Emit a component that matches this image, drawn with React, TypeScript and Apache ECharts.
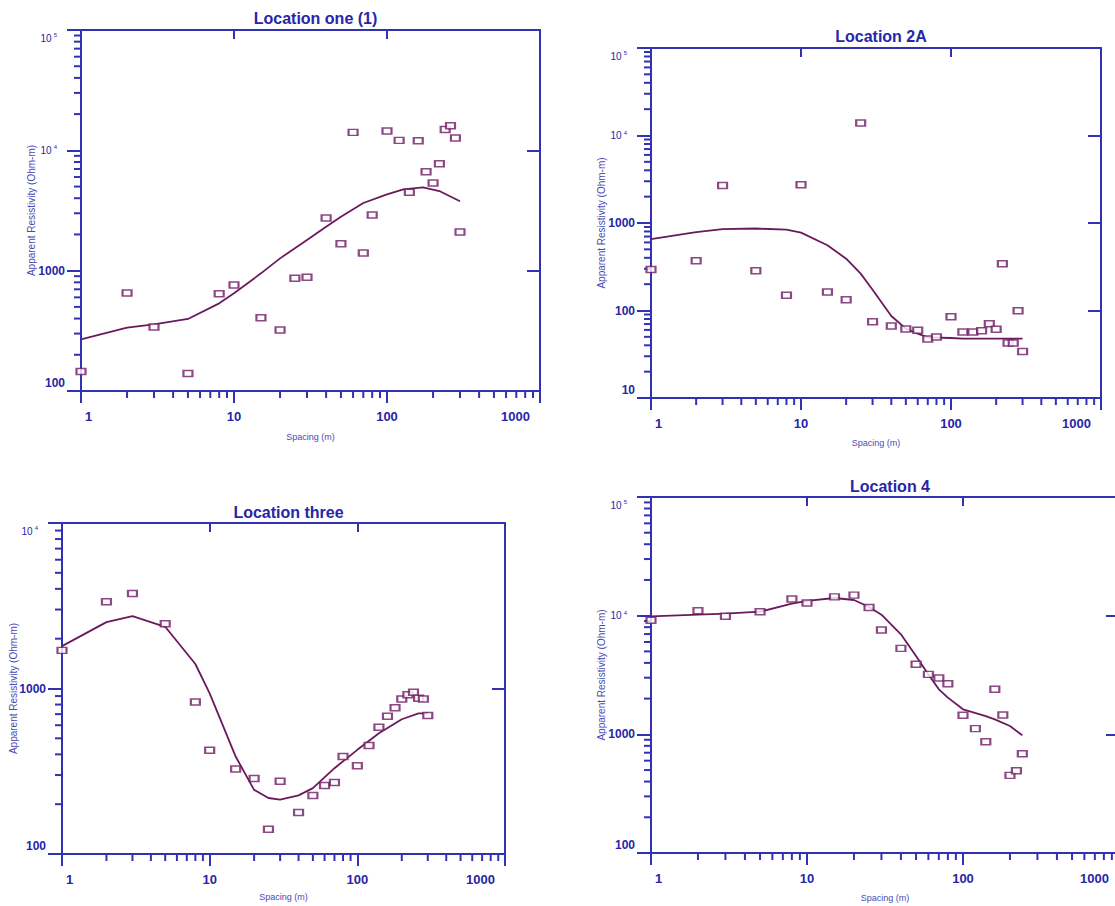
import React, { useEffect, useRef } from "react";
import * as echarts from "echarts";

// ---------- data ----------
const titles = ["Location one (1)", "Location 2A", "Location three", "Location 4"];
const xAxisName = "Spacing (m)";
const yAxisName = "Apparent Resistivity (Ohm-m)";

const spacing1 = [1, 2, 3, 5, 8, 10, 15, 20, 25, 30, 40, 50, 60, 70, 80, 100, 120, 140, 160, 180, 200, 220, 240, 260, 280, 300];
const rho1 = [145, 652, 340, 140, 644, 760, 407, 321, 864, 880, 2740, 1676, 14100, 1402, 2900, 14500, 12100, 4480, 12000, 6650, 5350, 7750, 14900, 16000, 12650, 2100];
const fitX1 = [1, 2, 3, 5, 8, 10, 15, 20, 30, 40, 50, 70, 100, 128, 172, 220, 300];
const fitY1 = [269, 336, 358, 397, 535, 648, 950, 1265, 1800, 2320, 2810, 3650, 4310, 4740, 4930, 4590, 3770];

const spacing2 = [1, 2, 3, 5, 8, 10, 15, 20, 25, 30, 40, 50, 60, 70, 80, 100, 120, 140, 160, 180, 200, 220, 240, 260, 280, 300];
const rho2 = [295, 371, 2690, 285, 149, 2740, 163, 133, 13900, 74.5, 66.5, 61.5, 59.3, 47.2, 49.8, 85, 56.8, 56.8, 58.8, 70.7, 61, 343, 42.5, 42.5, 99.6, 33.9];
const fitX2 = [1, 2, 3, 5, 8, 10, 15, 20, 25, 30, 40, 50, 60, 70, 100, 120, 300];
const fitY2 = [656, 788, 853, 865, 840, 776, 556, 391, 264, 173, 86.5, 62, 54.3, 49.4, 48.5, 47.7, 47.7];

const spacing3 = [1, 2, 3, 5, 8, 10, 15, 20, 25, 30, 40, 50, 60, 70, 80, 100, 120, 140, 160, 180, 200, 220, 240, 260, 280, 300];
const rho3 = [1700, 3340, 3750, 2460, 829, 424, 326, 286, 141, 275, 178, 226, 259, 270, 388, 341, 452, 583, 679, 766, 864, 918, 948, 873, 864, 686];
const fitX3 = [1, 2, 3, 5, 8, 10, 15, 20, 25, 30, 40, 50, 70, 100, 140, 200, 260, 300];
const fitY3 = [1804, 2518, 2737, 2360, 1406, 935, 388, 244, 218, 213, 226, 250, 330, 426, 537, 652, 708, 708];

const spacing4 = [1, 2, 3, 5, 8, 10, 15, 20, 25, 30, 40, 50, 60, 70, 80, 100, 120, 140, 160, 180, 200, 220, 240];
const rho4 = [9140, 11020, 9870, 10800, 13800, 12800, 14400, 14900, 11700, 7570, 5300, 3890, 3200, 2985, 2670, 1446, 1117, 867, 2395, 1455, 451, 494, 687];
const fitX4 = [1, 2, 3, 5, 8, 10, 15, 20, 25, 30, 40, 50, 60, 70, 80, 100, 140, 160, 200, 240];
const fitY4 = [9870, 10200, 10400, 10800, 12620, 13300, 14090, 13550, 11830, 10200, 6960, 4570, 3200, 2395, 2040, 1625, 1426, 1337, 1175, 981];

const xRange = [1, 1000];
const yRanges = [
  [100, 100000],
  [10, 100000],
  [100, 10000],
  [100, 100000],
];
const minorMultiples = [2, 3, 4, 5, 6, 7, 8, 9];
const decades = [1, 10, 100, 1000, 10000];

// ---------- styling / layout ----------
const BLUE = "#3131b6";
const TXT = "#2626a8";
const NAME = "#4a4ab4";
const PURPLE = "#6e1a63";
const LINE = "#6a1a5c";
const FONT = "Liberation Sans, Arial, sans-serif";

const layout = [
  { left: 81, top: 30, width: 459, height: 361, titleTop: 5, xGap: 41, yGap: 45 },
  { left: 651, top: 48, width: 450, height: 350, titleTop: 23, xGap: 40, yGap: 45 },
  { left: 62, top: 523, width: 443, height: 331, titleTop: 499, xGap: 38, yGap: 44 },
  { left: 651, top: 497, width: 468, height: 356, titleTop: 473, xGap: 40, yGap: 45 },
];

const spacings = [spacing1, spacing2, spacing3, spacing4];
const rhos = [rho1, rho2, rho3, rho4];
const fitXs = [fitX1, fitX2, fitX3, fitX4];
const fitYs = [fitY1, fitY2, fitY3, fitY4];

function minorTicks(lo: number, hi: number): number[] {
  const out: number[] = [];
  decades.forEach((d) => {
    minorMultiples.forEach((m) => {
      const v = d * m;
      if (v > lo && v < hi) out.push(v);
    });
  });
  return out;
}

function makeYLabel(yMin: number, yMax: number) {
  const eMin = Math.round(Math.log10(yMin));
  const eMax = Math.round(Math.log10(yMax));
  return (v: number): string => {
    const e = Math.round(Math.log10(v));
    const body = e >= 4 ? `{t|10}{s|${e}}` : `{b|${Math.round(Math.pow(10, e))}}`;
    if (e === eMin) return `${body}\n{gap| }`;
    if (e === eMax) return `{gap| }\n${body}`;
    return body;
  };
}

function xLabel(v: number): string {
  const e = Math.round(Math.log10(v));
  const s = String(Math.round(Math.pow(10, e)));
  if (e === 0) return `{mn|${s}}`;
  if (e === 3) return `{mx|${s}}`;
  return s;
}

function buildOption() {
  const grid: any[] = [];
  const xAxis: any[] = [];
  const yAxis: any[] = [];
  const series: any[] = [];
  const title: any[] = [];

  layout.forEach((L, i) => {
    const [yMin, yMax] = yRanges[i];
    grid.push({ left: L.left, top: L.top, width: L.width, height: L.height, containLabel: false, outerBoundsMode: "none", show: false });
    title.push({
      text: titles[i],
      left: L.left + L.width / 2,
      top: L.titleTop,
      textAlign: "center",
      textStyle: { color: TXT, fontSize: 16, fontWeight: "bold", fontFamily: FONT },
    });
    const lineStyle = { color: BLUE, width: 2 };
    const xl = { color: TXT, fontSize: 13, fontWeight: "bold", fontFamily: FONT };
    // bottom x axis
    xAxis.push({
      type: "log", logBase: 10, gridIndex: i, min: xRange[0], max: xRange[1], position: "bottom",
      axisLine: { show: true, lineStyle },
      axisTick: { show: true, inside: false, length: 12, lineStyle },
      splitLine: { show: false },
      minorTick: { show: false },
      axisLabel: {
        ...xl, margin: 19,
        alignMinLabel: "left", alignMaxLabel: "right",
        formatter: xLabel,
        rich: {
          mn: { ...xl, padding: [0, 0, 0, 4] },
          mx: { ...xl, padding: [0, 10, 0, 0] },
        },
      },
      name: xAxisName, nameLocation: "middle", nameGap: L.xGap, nameMoveOverlap: false,
      nameTextStyle: { color: NAME, fontSize: 9, fontFamily: FONT },
    });
    // top x axis (frame with inward ticks)
    xAxis.push({
      type: "log", logBase: 10, gridIndex: i, min: xRange[0], max: xRange[1], position: "top",
      axisLine: { show: true, lineStyle },
      axisTick: { show: true, inside: true, length: 9, lineStyle },
      axisLabel: { show: false },
      splitLine: { show: false },
    });
    // left y axis
    yAxis.push({
      type: "log", logBase: 10, gridIndex: i, min: yMin, max: yMax, position: "left",
      axisLine: { show: true, lineStyle },
      axisTick: { show: true, inside: false, length: 14, lineStyle },
      splitLine: { show: false },
      axisLabel: {
        margin: 16,
        formatter: makeYLabel(yMin, yMax),
        rich: {
          b: { color: TXT, fontSize: 12, fontWeight: "bold", fontFamily: FONT },
          t: { color: TXT, fontSize: 10, fontFamily: FONT },
          s: { color: TXT, fontSize: 6, fontFamily: FONT, verticalAlign: "top", padding: [0, 8, 6, 2] },
          gap: { fontSize: 6, lineHeight: 16 },
        },
      },
      name: yAxisName, nameLocation: "middle", nameGap: L.yGap, nameRotate: 90, nameMoveOverlap: false,
      nameTextStyle: { color: NAME, fontSize: 10, fontFamily: FONT },
    });
    // right y axis (frame with inward ticks)
    yAxis.push({
      type: "log", logBase: 10, gridIndex: i, min: yMin, max: yMax, position: "right",
      axisLine: { show: true, lineStyle },
      axisTick: { show: true, inside: true, length: 13, lineStyle },
      axisLabel: { show: false },
      splitLine: { show: false },
    });

    const xi = i * 2;
    const yi = i * 2;
    // minor ticks on x (downward) and y (leftward)
    series.push({
      type: "custom", xAxisIndex: xi, yAxisIndex: yi, silent: true, clip: false, z: 3,
      data: minorTicks(xRange[0], xRange[1]).map((v) => [v, yMin]),
      renderItem: (_p: any, api: any) => {
        const pt = api.coord([api.value(0), api.value(1)]);
        return { type: "line", shape: { x1: pt[0], y1: pt[1], x2: pt[0], y2: pt[1] + 7 }, style: { stroke: BLUE, lineWidth: 2 } };
      },
    });
    series.push({
      type: "custom", xAxisIndex: xi, yAxisIndex: yi, silent: true, clip: false, z: 3,
      data: minorTicks(yMin, yMax).map((v) => [xRange[0], v]),
      renderItem: (_p: any, api: any) => {
        const pt = api.coord([api.value(0), api.value(1)]);
        return { type: "line", shape: { x1: pt[0], y1: pt[1], x2: pt[0] - 7, y2: pt[1] }, style: { stroke: BLUE, lineWidth: 2 } };
      },
    });
    // fitted curve
    series.push({
      type: "line", xAxisIndex: xi, yAxisIndex: yi, showSymbol: false, smooth: false, z: 4,
      data: fitXs[i].map((x, k) => [x, fitYs[i][k]]),
      lineStyle: { color: LINE, width: 1.8 },
    });
    // observed data
    series.push({
      type: "scatter", xAxisIndex: xi, yAxisIndex: yi, symbol: "rect", symbolSize: [9, 6], z: 5,
      data: spacings[i].map((x, k) => [x, rhos[i][k]]),
      itemStyle: { color: "#ffffff", borderColor: PURPLE, borderWidth: 1.8 },
    });
  });

  return {
    animation: false,
    backgroundColor: "#ffffff",
    title,
    grid,
    xAxis,
    yAxis,
    series,
  };
}

export default function App() {
  const ref = useRef<HTMLDivElement>(null);
  useEffect(() => {
    if (!ref.current) return;
    const chart = echarts.init(ref.current, undefined, { renderer: "svg" });
    chart.setOption(buildOption() as any);
    return () => chart.dispose();
  }, []);
  return <div ref={ref} style={{ position: "absolute", left: 0, top: 0, width: 1115, height: 906 }} />;
}
